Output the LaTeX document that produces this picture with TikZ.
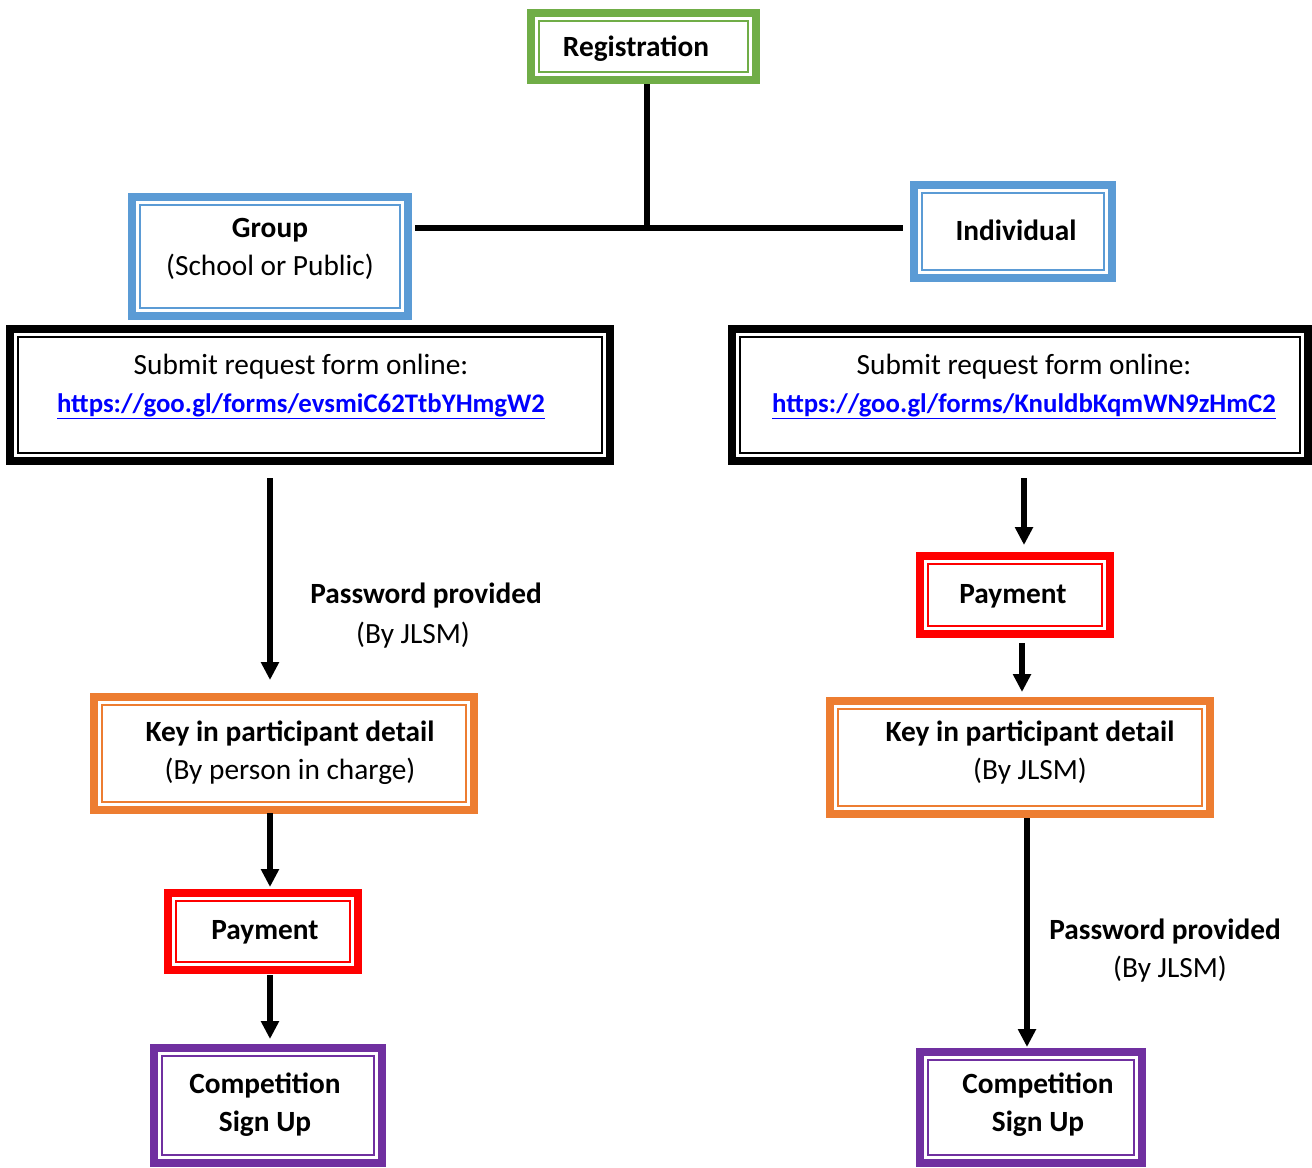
\documentclass[tikz,border=0pt]{standalone}
\usepackage{fontspec}
\setmainfont{Carlito}
\usetikzlibrary{arrows.meta}
\definecolor{cgreen}{RGB}{112,173,71}
\definecolor{cblue}{RGB}{91,155,213}
\definecolor{corange}{RGB}{237,125,49}
\definecolor{cred}{RGB}{255,0,0}
\definecolor{cpurple}{RGB}{112,48,160}
\definecolor{clink}{RGB}{0,0,255}
% name, colour, cx, cy, w, h (px)
\newcommand\dbox[6]{%
  \node[bx=#2, minimum width=#5*0.75pt, minimum height=#6*0.75pt] (#1) at (#3,#4) {};
  \node[bxin=#2, minimum width=(#5-16)*0.75pt, minimum height=(#6-16)*0.75pt] (#1in) at (#1.center) {};}
\newcommand\linktext[1]{{\fontsize{20.1}{28.5}\selectfont\textcolor{clink}{\bfseries\underline{#1}}}}
\begin{document}
\begin{tikzpicture}[x=0.75pt,y=-0.75pt,
  bx/.style={draw=#1, line width=6pt, inner sep=0pt, outer sep=0pt, fill=white},
  bxin/.style={draw=#1, line width=1.5pt, inner sep=0pt, outer sep=0pt},
  lbl/.style={inner sep=0pt, align=center, font=\fontsize{22}{28.5}\selectfont},
  conn/.style={line width=4.5pt},
  arr/.style={conn, -{Triangle[length=13.5pt,width=13pt]}}]
\useasboundingbox[fill=white] (0,0) rectangle (1312,1167);
% boxes
\dbox{reg}{cgreen}{643.5}{46.5}{225}{67}
\dbox{group}{cblue}{270}{256.5}{276}{119}
\dbox{indiv}{cblue}{1013}{231.5}{198}{93}
\dbox{subL}{black}{310}{395}{600}{132}
\dbox{subR}{black}{1020}{395}{576}{132}
\dbox{keyL}{corange}{284}{753.5}{380}{113}
\dbox{payL}{cred}{263}{931.5}{190}{77}
\dbox{compL}{cpurple}{268}{1105.5}{228}{115}
\dbox{payR}{cred}{1015}{595}{190}{78}
\dbox{keyR}{corange}{1020}{757.5}{380}{113}
\dbox{compR}{cpurple}{1031}{1107.5}{222}{111}
% texts
\node[lbl] (regT) at (636,49) {\bfseries Registration};
\node[lbl] (groupT) at (270,249) {\bfseries Group\\(School or Public)};
\node[lbl] (indivT) at (1016,230) {\bfseries Individual};
\node[lbl] (subLT) at (301,386.5) {Submit request form online:\\\linktext{https://goo.gl/forms/evsmiC62TtbYHmgW2}};
\node[lbl] (subRT) at (1024,386.5) {Submit request form online:\\\linktext{https://goo.gl/forms/KnuldbKqmWN9zHmC2}};
\node[lbl] (keyLT) at (290,752.5) {\bfseries Key in participant detail\\(By person in charge)};
\node[lbl] (payLT) at (265,932) {\bfseries Payment};
\node[lbl] (compLT) at (265,1104.5) {\bfseries Competition\\\bfseries Sign Up};
\node[lbl] (payRT) at (1013,596) {\bfseries Payment};
\node[lbl] (keyRT) at (1030,752.5) {\bfseries Key in participant detail\\(By JLSM)};
\node[lbl] (compRT) at (1038,1104.5) {\bfseries Competition\\\bfseries Sign Up};
\node[lbl] (pwL1) at (426,596) {\bfseries Password provided};
\node[lbl] (pwL2) at (413,635) {(By JLSM)};
\node[lbl] (pwR1) at (1165,931) {\bfseries Password provided};
\node[lbl] (pwR2) at (1170,969) {(By JLSM)};
% connectors
\coordinate (j) at (647,228);
\coordinate (xl) at (270,0);
\coordinate (xr1) at (1024,0);
\coordinate (xr2) at (1022,0);
\coordinate (xr3) at (1027,0);
\draw[conn, shorten <=3pt] (reg.south -| j) -- (j);
\draw[conn, shorten <=5.25pt, shorten >=8.25pt] (group.east |- j) -- (indiv.west |- j);
\draw[arr, shorten <=12.75pt, shorten >=12.75pt] (subL.south -| xl) -- (keyL.north -| xl);
\draw[arr, shorten <=12.75pt, shorten >=8.25pt] (subR.south -| xr1) -- (payR.north -| xr1);
\draw[arr, shorten <=6.75pt, shorten >=6.75pt] (payR.south -| xr2) -- (keyR.north -| xr2);
\draw[arr, shorten <=2.25pt, shorten >=4.5pt] (keyL.south -| xl) -- (payL.north -| xl);
\draw[arr, shorten <=3.75pt, shorten >=6.75pt] (payL.south -| xl) -- (compL.north -| xl);
\draw[arr, shorten <=3pt, shorten >=3.75pt] (keyR.south -| xr3) -- (compR.north -| xr3);
\end{tikzpicture}
\end{document}
